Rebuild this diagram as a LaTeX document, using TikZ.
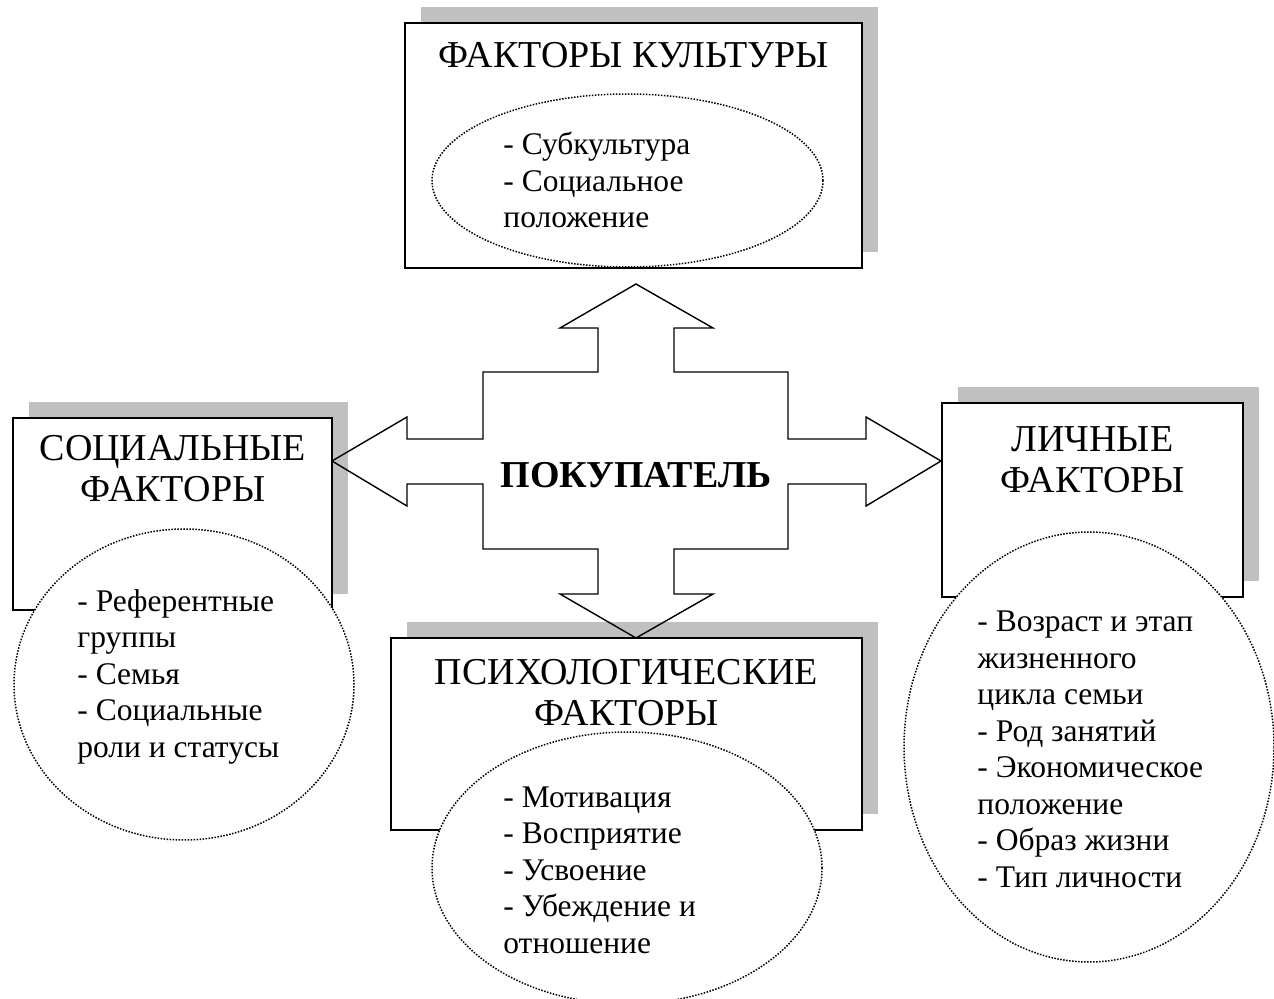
\documentclass[tikz,border=0pt]{standalone}
\usepackage{fontspec}
\setmainfont{Liberation Serif}
\usepackage{xcolor}
\usepackage{tikz}
\usetikzlibrary{shapes.geometric, shadows}
\definecolor{shadowgray}{RGB}{192,192,192}

\begin{document}
\begin{tikzpicture}[
        x=0.5pt, y=-0.5pt,
        factor/.style={draw, rectangle, line width=0.8pt, fill=white, inner sep=0pt,
            drop shadow={shadow xshift=8pt, shadow yshift=8pt, fill=shadowgray, opacity=1}},
        sublist/.style={draw, ellipse, fill=white, inner sep=0pt, line width=0.75pt, dash pattern=on 0.75pt off 0.75pt},
        headtext/.style={anchor=base, align=center, inner sep=0pt, font=\fontsize{19}{20.5}\selectfont},
        itemtext/.style={anchor=base west, align=left, inner sep=0pt, font=\fontsize{15.75}{18.25}\selectfont},
        crossarrow/.style={draw, line width=0.7pt, line join=miter}
    ]
    \useasboundingbox (0,0) rectangle (1274,999);

    % --- Factor boxes with shadows ---
    \node[factor, minimum width=228.5pt, minimum height=122.5pt] (kultbox) at (633.5,145.5) {};
    \node[factor, minimum width=159.5pt, minimum height=96pt] (socbox) at (172.5,514) {};
    \node[factor, minimum width=150.5pt, minimum height=97pt] (lichbox) at (1092.5,500) {};
    \node[factor, minimum width=235.5pt, minimum height=96pt] (psybox) at (626.5,734) {};

    % --- Dotted ellipses ---
    \node[sublist, minimum width=195.5pt, minimum height=86.5pt] (kultell) at (627.5,180.5) {};
    \node[sublist, minimum width=170pt, minimum height=155.5pt] (socell) at (184,684.5) {};
    \node[sublist, minimum width=185pt, minimum height=215pt] (lichell) at (1089,747) {};
    \node[sublist, minimum width=195pt, minimum height=136pt] (psyell) at (627,868) {};

    % --- Titles (placed by the last line) ---
    \node[headtext] (kulttitle) at (633.5,68) {ФАКТОРЫ КУЛЬТУРЫ};
    \node[headtext] (soctitle) at (173,502) {СОЦИАЛЬНЫЕ\\ФАКТОРЫ};
    \node[headtext] (lichtitle) at (1092.5,493) {ЛИЧНЫЕ\\ФАКТОРЫ};
    \node[headtext] (psytitle) at (626.5,725) {ПСИХОЛОГИЧЕСКИЕ\\ФАКТОРЫ};

    % --- Lists (placed by the last line) ---
    \node[itemtext] (kultlist) at (503,228) {- Субкультура\\- Социальное\\положение};
    \node[itemtext] (soclist) at (77,757) {- Референтные\\группы\\- Семья\\- Социальные\\роли и статусы};
    \node[itemtext] (lichlist) at (977,887) {- Возраст и этап\\жизненного\\цикла семьи\\- Род занятий\\- Экономическое\\положение\\- Образ жизни\\- Тип личности};
    \node[itemtext] (psylist) at (503,953) {- Мотивация\\- Восприятие\\- Усвоение\\- Убеждение и\\отношение};

    % --- Buyer cross ---
    \draw[crossarrow] (636,284) -- (713,328) -- (674,328) -- (674,372) -- (788,372) -- (788,439)
        -- (866,439) -- (866,417) -- (941,461) -- (866,506) -- (866,484) -- (788,484) -- (788,549)
        -- (674,549) -- (674,594) -- (713,594) -- (636,638) -- (560,594) -- (598,594) -- (598,549)
        -- (483,549) -- (483,484) -- (407,484) -- (407,506) -- (332,461) -- (407,417) -- (407,439)
        -- (483,439) -- (483,372) -- (598,372) -- (598,328) -- (560,328) -- cycle;
    \node[font=\fontsize{19}{20}\selectfont\bfseries, anchor=base, inner sep=0pt] (buyer) at (636,488) {ПОКУПАТЕЛЬ};

\end{tikzpicture}
\end{document}
